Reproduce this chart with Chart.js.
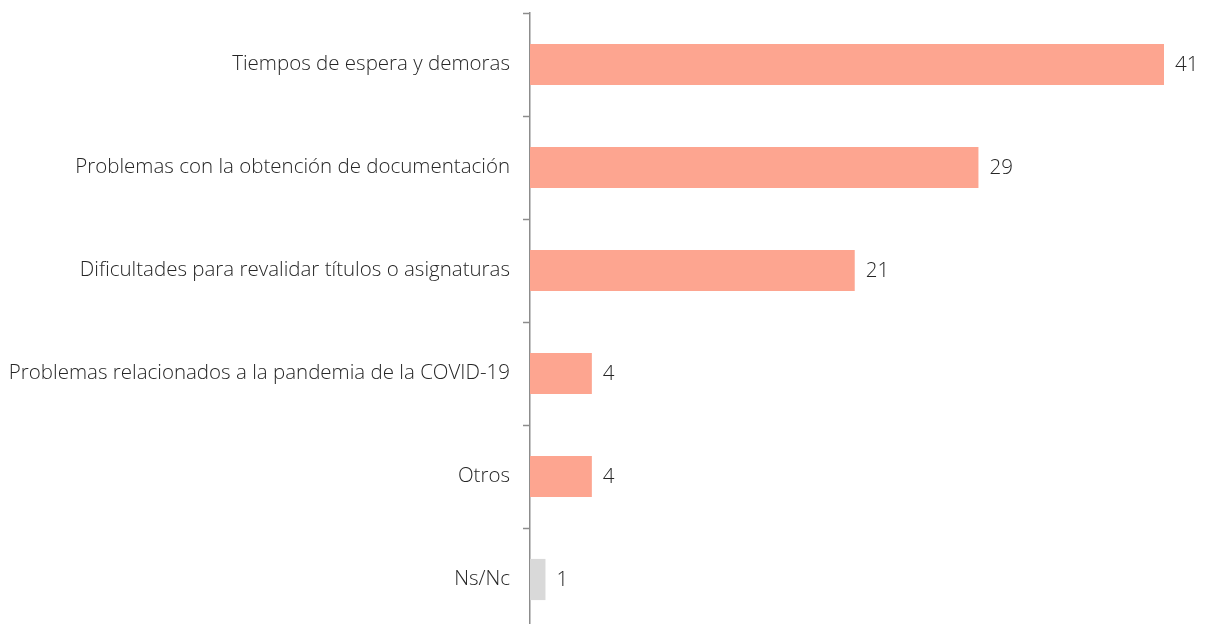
<!DOCTYPE html>
<html>
<head>
<meta charset="utf-8">
<script src="https://cdn.jsdelivr.net/npm/chart.js@4/dist/chart.umd.min.js"></script>
<style>
  html, body { margin: 0; padding: 0; background: #fff; overflow: hidden; }
  #wrap { width: 1208px; height: 640px; }
</style>
</head>
<body>
<div id="wrap"><canvas id="chart"></canvas></div>
<script>
var categories = [
    'Tiempos de espera y demoras',
    'Problemas con la obtención de documentación',
    'Dificultades para revalidar títulos o asignaturas',
    'Problemas relacionados a la pandemia de la COVID-19',
    'Otros',
    'Ns/Nc'
];
var values = [41, 29, 21, 4, 4, 1];
var barColors = ['#FDA590', '#FDA590', '#FDA590', '#FDA590', '#FDA590', '#D9D9D9'];

var labelFont = { family: 'Open Sans', weight: '300', size: 20.5 };

// draws the value next to each bar
var valueLabels = {
    id: 'valueLabels',
    afterDatasetsDraw: function (chart) {
        var ctx = chart.ctx;
        var meta = chart.getDatasetMeta(0);
        ctx.save();
        ctx.font = '300 20.5px "Open Sans"';
        ctx.fillStyle = '#262626';
        ctx.textAlign = 'left';
        ctx.textBaseline = 'middle';
        meta.data.forEach(function (bar, i) {
            ctx.fillText(values[i], bar.x + 11, bar.y + 1);
        });
        ctx.restore();
    }
};

var ctx = document.getElementById('chart');

var barGraph = new Chart(ctx, {
    type: 'bar',
    data: {
        labels: categories,
        datasets: [
            {
                data: values,
                backgroundColor: barColors,
                borderWidth: 0,
                barPercentage: 0.4,
                categoryPercentage: 1
            }
        ]
    },
    options: {
        indexAxis: 'y',
        responsive: true,
        maintainAspectRatio: false,
        animation: false,
        layout: { padding: { top: 13, bottom: 9, right: 44, left: 0 } },
        plugins: {
            legend: { display: false },
            tooltip: { enabled: false }
        },
        scales: {
            x: {
                display: false,
                min: 0,
                max: 41
            },
            y: {
                afterFit: function (scale) {
                    scale.width = 530;
                    scale.paddingTop = 0;
                    scale.paddingBottom = 0;
                },
                border: { color: '#8c8c8c', width: 1.5 },
                grid: {
                    drawOnChartArea: false,
                    tickLength: 7,
                    tickColor: '#8c8c8c',
                    tickWidth: 1.5
                },
                ticks: {
                    color: '#262626',
                    padding: 13,
                    font: labelFont
                }
            }
        }
    },
    plugins: [valueLabels]
});
</script>
</body>
</html>
